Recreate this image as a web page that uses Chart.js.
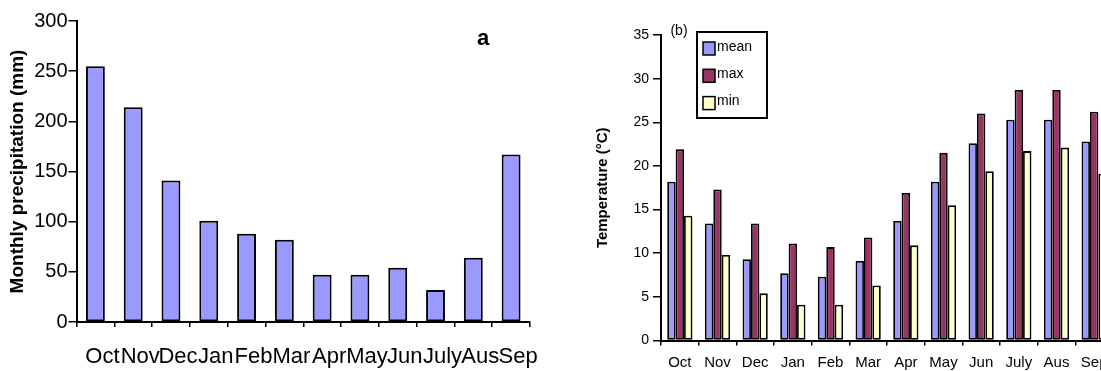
<!DOCTYPE html>
<html>
<head>
<meta charset="utf-8">
<script src="https://cdn.jsdelivr.net/npm/chart.js@4.4.0/dist/chart.umd.min.js"></script>
<style>
  html, body { margin: 0; padding: 0; background: #fff; overflow: hidden; width: 1101px; height: 371px; }
  #precipChart { position: absolute; left: 0; top: 0; }
  #tempChart { position: absolute; left: 560px; top: 0; }
</style>
</head>
<body>
<canvas id="precipChart" width="560" height="371"></canvas>
<canvas id="tempChart" width="560" height="371"></canvas>
<script>
// panel a - monthly precipitation
const precipMonths = ["Oct", "Nov", "Dec", "Jan", "Feb", "Mar", "Apr", "May", "Jun", "July", "Aus", "Sep"];
const precipValues = [255, 214, 141, 101, 88, 82, 47, 47, 54, 32, 64, 167];

// panel b - temperature
const tempMonths = ["Oct", "Nov", "Dec", "Jan", "Feb", "Mar", "Apr", "May", "Jun", "July", "Aus", "Sep"];
const tempMean = [18.2, 13.4, 9.3, 7.7, 7.3, 9.1, 13.7, 18.2, 22.6, 25.3, 25.3, 22.8];
const tempMax = [21.9, 17.3, 13.4, 11.1, 10.7, 11.8, 16.9, 21.5, 26.0, 28.7, 28.7, 26.2];
const tempMin = [14.3, 9.8, 5.4, 4.1, 4.1, 6.3, 10.9, 15.5, 19.4, 21.7, 22.1, 19.1];
const tempSeries = ["mean", "max", "min"];

const FONT = '"Liberation Sans", Arial, sans-serif';
Chart.defaults.font.family = FONT;
Chart.defaults.color = "#000";

// small text labels ("a", "(b)")
const panelLetter = {
  id: "panelLetter",
  afterDraw(chart, args, opts) {
    const ctx = chart.ctx;
    ctx.save();
    ctx.fillStyle = "#000";
    ctx.font = opts.font;
    ctx.textAlign = "center";
    ctx.textBaseline = "middle";
    ctx.fillText(opts.text, opts.x, opts.y);
    ctx.restore();
  }
};

// boxed legend inside the temperature plot
const boxLegend = {
  id: "boxLegend",
  afterDraw(chart) {
    const ctx = chart.ctx;
    const x0 = 137, y0 = 32, w = 70, h = 86;
    ctx.save();
    ctx.fillStyle = "#fff";
    ctx.fillRect(x0, y0, w, h);
    ctx.lineWidth = 2;
    ctx.strokeStyle = "#000";
    ctx.strokeRect(x0, y0, w, h);
    ctx.font = "14px " + FONT;
    ctx.textBaseline = "middle";
    chart.data.datasets.forEach((ds, i) => {
      const cy = y0 + 16 + i * 27.3;
      ctx.fillStyle = ds.backgroundColor;
      ctx.fillRect(x0 + 6, cy - 6, 12, 13);
      ctx.lineWidth = 1.5;
      ctx.strokeRect(x0 + 6, cy - 6, 12, 13);
      ctx.fillStyle = "#000";
      ctx.fillText(ds.label, x0 + 20, cy - 1);
    });
    ctx.restore();
  }
};

new Chart(document.getElementById("precipChart"), {
  type: "bar",
  data: {
    labels: precipMonths,
    datasets: [{
      data: precipValues,
      backgroundColor: "#9999ff",
      borderColor: "#000",
      borderWidth: 2,
      borderSkipped: false,
      barPercentage: 0.5,
      categoryPercentage: 1
    }]
  },
  options: {
    responsive: false,
    animation: false,
    layout: { padding: { left: 0, right: 30, top: 21, bottom: 0 } },
    plugins: {
      legend: { display: false },
      tooltip: { enabled: false },
      panelLetter: { text: "a", x: 483, y: 39, font: "bold 22px " + FONT }
    },
    scales: {
      x: {
        grid: { display: true, drawOnChartArea: false, drawTicks: true, tickLength: 5, color: "#000", lineWidth: 1.5 },
        border: { display: true, color: "#000", width: 2 },
        ticks: { autoSkip: false, maxRotation: 0, minRotation: 0, font: { size: 22 }, padding: 17, labelOffset: 7 },
        afterFit: s => { s.height = 49; }
      },
      y: {
        min: 0, max: 300,
        grid: { display: true, drawOnChartArea: false, drawTicks: true, tickLength: 8, color: "#000", lineWidth: 1.5 },
        border: { display: true, color: "#000", width: 2 },
        ticks: { stepSize: 50, font: { size: 20 }, padding: 1 },
        title: { display: true, text: "Monthly precipitation (mm)", font: { size: 19, weight: "bold" }, padding: { top: 6, bottom: 0 } },
        afterFit: s => { s.width = 76.5; }
      }
    }
  },
  plugins: [panelLetter]
});

const tempColors = ["#9999ff", "#993366", "#ffffcc"];
const tempData = [tempMean, tempMax, tempMin];

new Chart(document.getElementById("tempChart"), {
  type: "bar",
  data: {
    labels: tempMonths,
    datasets: tempSeries.map((name, i) => ({
      label: name,
      data: tempData[i],
      backgroundColor: tempColors[i],
      borderColor: "#000",
      borderWidth: 1.8,
      borderSkipped: false,
      barPercentage: 1,
      categoryPercentage: 0.67
    }))
  },
  options: {
    responsive: false,
    animation: false,
    layout: { padding: { left: 0, right: 7, top: 35, bottom: 0 } },
    plugins: {
      legend: { display: false },
      tooltip: { enabled: false },
      panelLetter: { text: "(b)", x: 119, y: 31, font: "14px " + FONT }
    },
    scales: {
      x: {
        grid: { display: true, drawOnChartArea: false, drawTicks: true, tickLength: 5, color: "#000", lineWidth: 1.5 },
        border: { display: true, color: "#000", width: 2 },
        ticks: { autoSkip: false, maxRotation: 0, minRotation: 0, font: { size: 15 }, padding: 8 },
        afterFit: s => { s.height = 30.5; }
      },
      y: {
        min: 0, max: 35,
        grid: { display: true, drawOnChartArea: false, drawTicks: true, tickLength: 8, color: "#000", lineWidth: 1.5 },
        border: { display: true, color: "#000", width: 2 },
        ticks: { stepSize: 5, font: { size: 14 }, padding: 4 },
        title: { display: true, text: "Temperature (°C)", font: { size: 15, weight: "bold" }, padding: { top: 34, bottom: 0 } },
        afterFit: s => { s.width = 101; }
      }
    }
  },
  plugins: [panelLetter, boxLegend]
});
</script>
</body>
</html>
